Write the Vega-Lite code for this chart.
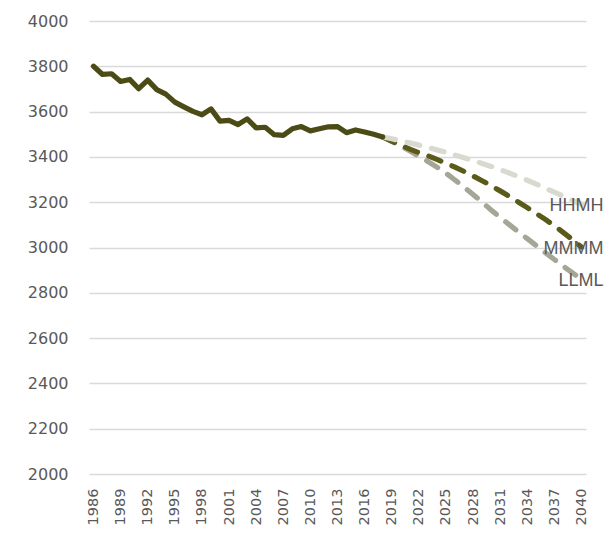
{
  "$schema": "https://vega.github.io/schema/vega-lite/v6.json",
  "width": 497,
  "height": 453,
  "autosize": "none",
  "padding": {"left": 89, "top": 21, "right": 30, "bottom": 61},
  "background": "white",
  "config": {"view": {"stroke": null}},
  "data": {"values": [
    {"series": "hist", "year": 1986, "value": 3800},
    {"series": "hist", "year": 1987, "value": 3764},
    {"series": "hist", "year": 1988, "value": 3767},
    {"series": "hist", "year": 1989, "value": 3733},
    {"series": "hist", "year": 1990, "value": 3742},
    {"series": "hist", "year": 1991, "value": 3701},
    {"series": "hist", "year": 1992, "value": 3739},
    {"series": "hist", "year": 1993, "value": 3697},
    {"series": "hist", "year": 1994, "value": 3677},
    {"series": "hist", "year": 1995, "value": 3642},
    {"series": "hist", "year": 1996, "value": 3621},
    {"series": "hist", "year": 1997, "value": 3601},
    {"series": "hist", "year": 1998, "value": 3586},
    {"series": "hist", "year": 1999, "value": 3612},
    {"series": "hist", "year": 2000, "value": 3558},
    {"series": "hist", "year": 2001, "value": 3561},
    {"series": "hist", "year": 2002, "value": 3543},
    {"series": "hist", "year": 2003, "value": 3568},
    {"series": "hist", "year": 2004, "value": 3528},
    {"series": "hist", "year": 2005, "value": 3531},
    {"series": "hist", "year": 2006, "value": 3498},
    {"series": "hist", "year": 2007, "value": 3495},
    {"series": "hist", "year": 2008, "value": 3524},
    {"series": "hist", "year": 2009, "value": 3534},
    {"series": "hist", "year": 2010, "value": 3515},
    {"series": "hist", "year": 2011, "value": 3524},
    {"series": "hist", "year": 2012, "value": 3533},
    {"series": "hist", "year": 2013, "value": 3534},
    {"series": "hist", "year": 2014, "value": 3507},
    {"series": "hist", "year": 2015, "value": 3519},
    {"series": "hist", "year": 2016, "value": 3510},
    {"series": "hist", "year": 2017, "value": 3500},
    {"series": "hist", "year": 2018, "value": 3488},

    {"series": "HHMH", "year": 2018, "value": 3488},
    {"series": "HHMH", "year": 2019, "value": 3480},
    {"series": "HHMH", "year": 2020, "value": 3471},
    {"series": "HHMH", "year": 2021, "value": 3462},
    {"series": "HHMH", "year": 2022, "value": 3452},
    {"series": "HHMH", "year": 2023, "value": 3442},
    {"series": "HHMH", "year": 2024, "value": 3431},
    {"series": "HHMH", "year": 2025, "value": 3420},
    {"series": "HHMH", "year": 2026, "value": 3408},
    {"series": "HHMH", "year": 2027, "value": 3396},
    {"series": "HHMH", "year": 2028, "value": 3384},
    {"series": "HHMH", "year": 2029, "value": 3371},
    {"series": "HHMH", "year": 2030, "value": 3358},
    {"series": "HHMH", "year": 2031, "value": 3344},
    {"series": "HHMH", "year": 2032, "value": 3329},
    {"series": "HHMH", "year": 2033, "value": 3313},
    {"series": "HHMH", "year": 2034, "value": 3297},
    {"series": "HHMH", "year": 2035, "value": 3280},
    {"series": "HHMH", "year": 2036, "value": 3262},
    {"series": "HHMH", "year": 2037, "value": 3244},
    {"series": "HHMH", "year": 2038, "value": 3226},
    {"series": "HHMH", "year": 2039, "value": 3208},
    {"series": "HHMH", "year": 2040, "value": 3190},

    {"series": "MMMM", "year": 2018, "value": 3488},
    {"series": "MMMM", "year": 2019, "value": 3470},
    {"series": "MMMM", "year": 2020, "value": 3452},
    {"series": "MMMM", "year": 2021, "value": 3434},
    {"series": "MMMM", "year": 2022, "value": 3419},
    {"series": "MMMM", "year": 2023, "value": 3405},
    {"series": "MMMM", "year": 2024, "value": 3389},
    {"series": "MMMM", "year": 2025, "value": 3372},
    {"series": "MMMM", "year": 2026, "value": 3355},
    {"series": "MMMM", "year": 2027, "value": 3336},
    {"series": "MMMM", "year": 2028, "value": 3316},
    {"series": "MMMM", "year": 2029, "value": 3295},
    {"series": "MMMM", "year": 2030, "value": 3273},
    {"series": "MMMM", "year": 2031, "value": 3250},
    {"series": "MMMM", "year": 2032, "value": 3226},
    {"series": "MMMM", "year": 2033, "value": 3201},
    {"series": "MMMM", "year": 2034, "value": 3176},
    {"series": "MMMM", "year": 2035, "value": 3150},
    {"series": "MMMM", "year": 2036, "value": 3124},
    {"series": "MMMM", "year": 2037, "value": 3096},
    {"series": "MMMM", "year": 2038, "value": 3066},
    {"series": "MMMM", "year": 2039, "value": 3035},
    {"series": "MMMM", "year": 2040, "value": 3002},

    {"series": "LLML", "year": 2018, "value": 3488},
    {"series": "LLML", "year": 2019, "value": 3468},
    {"series": "LLML", "year": 2020, "value": 3448},
    {"series": "LLML", "year": 2021, "value": 3426},
    {"series": "LLML", "year": 2022, "value": 3403},
    {"series": "LLML", "year": 2023, "value": 3380},
    {"series": "LLML", "year": 2024, "value": 3355},
    {"series": "LLML", "year": 2025, "value": 3328},
    {"series": "LLML", "year": 2026, "value": 3298},
    {"series": "LLML", "year": 2027, "value": 3266},
    {"series": "LLML", "year": 2028, "value": 3234},
    {"series": "LLML", "year": 2029, "value": 3200},
    {"series": "LLML", "year": 2030, "value": 3166},
    {"series": "LLML", "year": 2031, "value": 3133},
    {"series": "LLML", "year": 2032, "value": 3101},
    {"series": "LLML", "year": 2033, "value": 3070},
    {"series": "LLML", "year": 2034, "value": 3039},
    {"series": "LLML", "year": 2035, "value": 3008},
    {"series": "LLML", "year": 2036, "value": 2977},
    {"series": "LLML", "year": 2037, "value": 2947},
    {"series": "LLML", "year": 2038, "value": 2917},
    {"series": "LLML", "year": 2039, "value": 2888},
    {"series": "LLML", "year": 2040, "value": 2860}
  ]},
  "encoding": {
    "x": {
      "field": "year", "type": "quantitative",
      "scale": {"domain": [1985.5, 2040.5], "nice": false, "zero": false},
      "axis": {
        "title": null, "grid": false, "domain": false, "ticks": false,
        "values": [1986, 1989, 1992, 1995, 1998, 2001, 2004, 2007, 2010, 2013, 2016, 2019, 2022, 2025, 2028, 2031, 2034, 2037, 2040],
        "format": "d", "labelAngle": -90, "labelPadding": 14,
        "labelFont": "DejaVu Sans", "labelFontSize": 14.5, "labelColor": "#595959"
      }
    },
    "y": {
      "field": "value", "type": "quantitative",
      "scale": {"domain": [2000, 4000], "nice": false, "zero": false},
      "axis": {
        "title": null, "domain": false, "ticks": false,
        "values": [2000, 2200, 2400, 2600, 2800, 3000, 3200, 3400, 3600, 3800, 4000],
        "format": "d", "labelPadding": 21,
        "labelFont": "DejaVu Sans", "labelFontSize": 16, "labelColor": "#595959",
        "gridColor": "#D9D9D9", "gridWidth": 1.3
      }
    }
  },
  "layer": [
    {
      "transform": [{"filter": "datum.series === 'LLML'"}],
      "mark": {"type": "line", "color": "#A6A696", "strokeWidth": 5.2, "strokeDash": [13, 12], "strokeCap": "round"}
    },
    {
      "transform": [{"filter": "datum.series === 'MMMM'"}],
      "mark": {"type": "line", "color": "#5A5A19", "strokeWidth": 5.2, "strokeDash": [13, 12], "strokeCap": "round"}
    },
    {
      "transform": [{"filter": "datum.series === 'HHMH'"}],
      "mark": {"type": "line", "color": "#D9D9D0", "strokeWidth": 5.2, "strokeDash": [13, 12], "strokeCap": "round"}
    },
    {
      "transform": [{"filter": "datum.series === 'hist'"}],
      "mark": {"type": "line", "color": "#4B4B16", "strokeWidth": 5.2, "strokeCap": "round", "strokeJoin": "round"}
    },
    {
      "transform": [{"filter": "datum.series !== 'hist' && datum.year === 2040"}],
      "mark": {"type": "text", "align": "right", "baseline": "middle", "dx": 22, "dy": 2, "font": "Liberation Sans", "fontSize": 18, "color": "#595959"},
      "encoding": {"text": {"field": "series"}}
    }
  ]
}
